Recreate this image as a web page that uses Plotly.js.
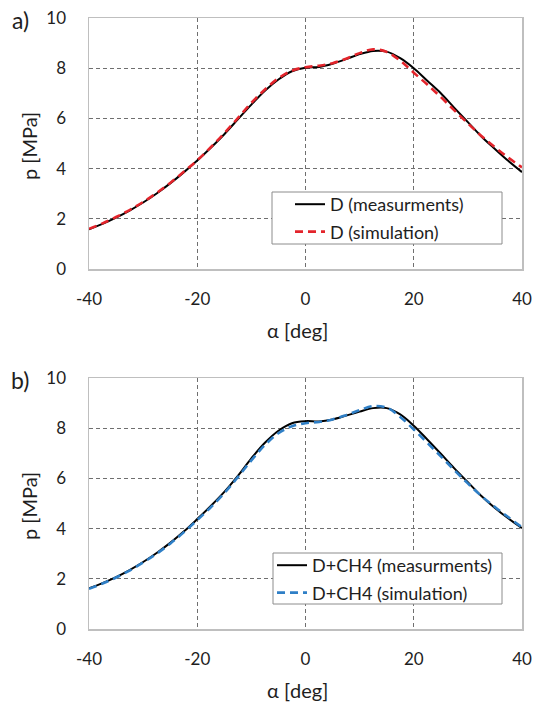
<!DOCTYPE html>
<html>
<head>
<meta charset="utf-8">
<script src="https://cdn.plot.ly/plotly-3.0.1.min.js"></script>
<style>html,body{margin:0;padding:0;background:#fff;}#chart{width:533px;height:707px;}</style>
</head>
<body>
<div id="chart"></div>
<script>
// ---- data ----
var alpha = [-40,-37.5,-35,-32.5,-30,-27.5,-25,-22.5,-20,-17.5,-15,-12.5,-10,-7.5,-5,-2.5,0,2.5,5,7.5,10,12.5,15,17.5,20,22.5,25,27.5,30,32.5,35,37.5,40];
var measA = [1.58,1.8,2.05,2.33,2.65,3.01,3.41,3.85,4.32,4.83,5.37,5.96,6.55,7.1,7.55,7.88,8.02,8.05,8.18,8.36,8.56,8.69,8.66,8.4,8.0,7.5,7.0,6.42,5.85,5.28,4.78,4.3,3.86];
var simA  = [1.6,1.82,2.07,2.35,2.67,3.03,3.43,3.87,4.33,4.85,5.41,6.01,6.62,7.15,7.6,7.9,8.04,8.1,8.2,8.38,8.6,8.75,8.65,8.3,7.82,7.35,6.85,6.32,5.8,5.3,4.85,4.43,4.05];
var measB = [1.62,1.83,2.07,2.35,2.67,3.03,3.43,3.88,4.38,4.9,5.46,6.1,6.8,7.42,7.9,8.2,8.28,8.27,8.35,8.5,8.66,8.8,8.8,8.55,8.1,7.55,6.98,6.4,5.85,5.3,4.82,4.4,4.02];
var simB  = [1.6,1.81,2.05,2.33,2.65,3.0,3.4,3.85,4.34,4.85,5.41,6.05,6.72,7.33,7.8,8.08,8.2,8.25,8.35,8.52,8.72,8.88,8.82,8.45,7.95,7.42,6.88,6.33,5.8,5.3,4.86,4.45,4.05];

var xTicks = [-40,-20,0,20,40];
var xTickText = ["-40","-20","0","20","40"];
var yTicks = [0,2,4,6,8,10];
var yTickText = ["0","2","4","6","8","10"];
var namesA = ["D (measurments)","D (simulation)"];
var namesB = ["D+CH4 (measurments)","D+CH4 (simulation)"];
var panelLabels = ["a)","b)"];
var xTitle = "α [deg]";
var yTitle = "p [MPa]";

// ---- geometry helpers (page pixels -> paper) ----
var W = 533, H = 707, ML = 89, MR = 11, MT = 18, MB = 78;
var PW = W - ML - MR, PH = H - MT - MB;
function px(x){ return (x - ML) / PW; }
function py(y){ return (H - MB - y) / PH; }

var FONT = "Lato, 'Open Sans', sans-serif";
var RED = "#e3242b", BLUE = "#2f7fc6", TXT = "#1e1e1e";

function line(x, y, name, color, dash, xa, ya, leg, grp){
  return {x:x, y:y, name:name, type:"scatter", mode:"lines",
    line:{color:color, width:dash ? 2.6 : 2, dash:dash || "solid", shape:"spline", smoothing:1},
    xaxis:xa, yaxis:ya, legend:leg, legendgroup:grp, hoverinfo:"skip"};
}

var data = [
  line(alpha, measA, namesA[0], "#000000", null, "x", "y", "legend", "a1"),
  line(alpha, simA,  namesA[1], RED, "8px,5px", "x", "y", "legend", "a2"),
  line(alpha, measB, namesB[0], "#000000", null, "x2", "y2", "legend2", "b1"),
  line(alpha, simB,  namesB[1], BLUE, "8px,5px", "x2", "y2", "legend2", "b2")
];

function xax(anchor){
  return {anchor:anchor, domain:[0,1], range:[-40,40], tickvals:xTicks, ticktext:xTickText, ticks:"",
    showgrid:true, gridcolor:"#6f6f6f", griddash:"4px,3px", gridwidth:1, zeroline:false,
    showline:true, mirror:true, linecolor:"#bfbfbf", linewidth:1.5,
    ticklabelstandoff:14, tickfont:{family:FONT, size:17, color:TXT}};
}
function yax(anchor, dom){
  return {anchor:anchor, domain:dom, range:[0,10], tickvals:yTicks, ticktext:yTickText, ticks:"",
    showgrid:true, gridcolor:"#6f6f6f", griddash:"4px,3px", gridwidth:1, zeroline:false,
    showline:true, mirror:true, linecolor:"#bfbfbf", linewidth:1.5,
    ticklabelstandoff:18, tickfont:{family:FONT, size:17, color:TXT}};
}

function legendAt(xp, yp){
  return {x:px(xp), y:py(yp), xanchor:"left", yanchor:"top", bgcolor:"rgba(0,0,0,0)",
    borderwidth:0, font:{family:FONT, size:18, color:TXT}, traceorder:"grouped", tracegroupgap:1};
}

function ann(text, x, y, size, angle){
  return {text:text, x:px(x), y:py(y), xref:"paper", yref:"paper", showarrow:false,
    xanchor:"center", yanchor:"middle", textangle:angle || 0,
    font:{family:FONT, size:size, color:TXT}};
}

var layout = {
  width:W, height:H, margin:{l:ML, r:MR, t:MT, b:MB},
  paper_bgcolor:"#fff", plot_bgcolor:"#fff", showlegend:true,
  xaxis:xax("y"), yaxis:yax("x", [py(269), 1]),
  xaxis2:xax("y2"), yaxis2:yax("x2", [0, py(378)]),
  legend:legendAt(290, 186),
  legend2:legendAt(272, 547),
  shapes:[
    {type:"rect", xref:"paper", yref:"paper", x0:px(272), x1:px(502), y0:py(244), y1:py(192),
     line:{color:"#8c8c8c", width:1}, fillcolor:"#fff", layer:"above"},
    {type:"rect", xref:"paper", yref:"paper", x0:px(273), x1:px(502), y0:py(604), y1:py(553),
     line:{color:"#8c8c8c", width:1}, fillcolor:"#fff", layer:"above"}
  ],
  annotations:[
    ann(panelLabels[0], 20, 20, 23),
    ann(panelLabels[1], 20, 380, 23),
    ann(yTitle, 29, 146, 20, -90),
    ann(yTitle, 29, 506, 20, -90),
    ann(xTitle, 297, 330, 20),
    ann(xTitle, 297, 690, 20)
  ]
};

Plotly.newPlot("chart", data, layout, {displayModeBar:false, staticPlot:true});
</script>
</body>
</html>
